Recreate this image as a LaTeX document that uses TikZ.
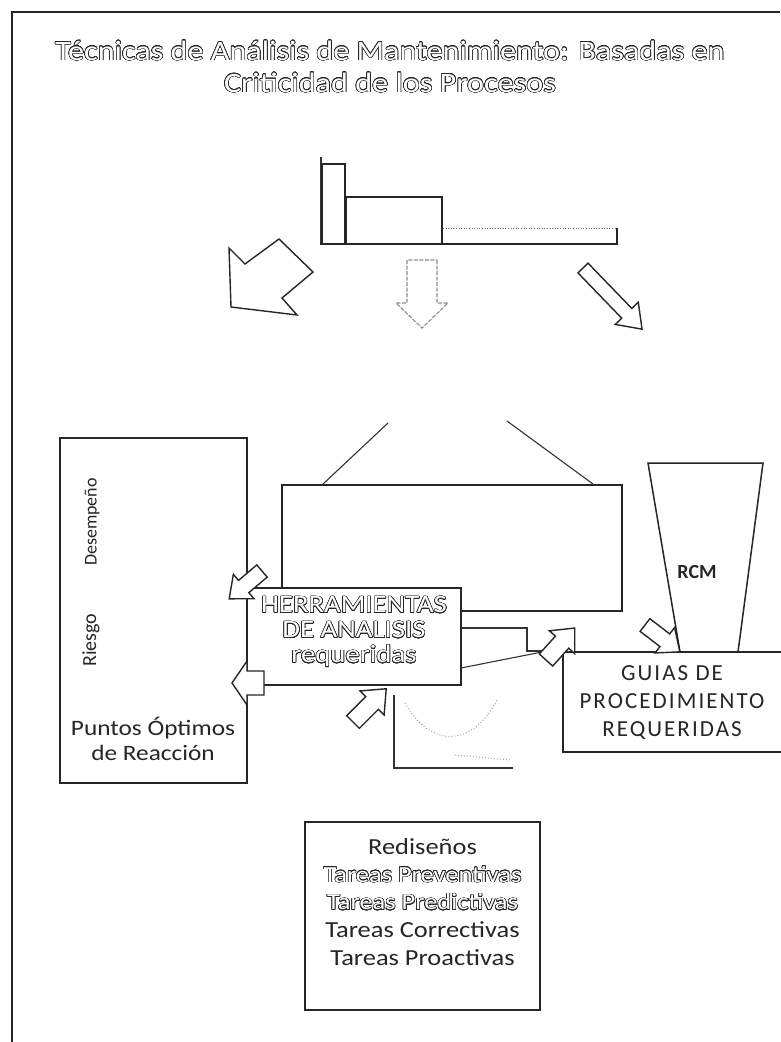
\documentclass[tikz,border=0pt]{standalone}
\usepackage{fontspec}
\setmainfont{Carlito}
\newfontfamily\widefont[FakeStretch=1.15]{Carlito}
\newfontfamily\spacedfont[LetterSpace=9]{Carlito}
\usepackage{contour}
\contourlength{0.6pt}
\contournumber{24}
\newcommand{\otext}[1]{{\color{white}\contour{black!85}{#1}}}
\newcommand{\blockarr}[8]{%
\begin{scope}[shift={(#2,#3)},rotate=#4]
\draw[#1] (0,-#6) -- ({#5-#8},-#6) -- ({#5-#8},-#7) -- (#5,0) -- ({#5-#8},#7) -- ({#5-#8},#6) -- (0,#6) -- cycle;
\end{scope}}
\tikzset{
  frameline/.style={line width=1.6pt, black!85},
  boxnode/.style={draw=black!85, line width=1.5pt, fill=white, inner sep=0pt},
  plainline/.style={line width=1.1pt, black!80},
  barrow/.style={draw=black!85, line width=1.4pt, fill=white, line join=miter},
  lightarrow/.style={draw=black!45, line width=1.1pt, dash pattern=on 4pt off 1.5pt, fill=white},
  bartile/.style={draw=black!85, line width=1.6pt},
  txt/.style={text=black!85, align=center, inner sep=0pt},
}
\begin{document}
\begin{tikzpicture}[x=1pt,y=-1pt]
\useasboundingbox (0,0) rectangle (780,1042);
\fill[white] (0,0) rectangle (780,1042);
% frame
\draw[frameline] (780,12) -- (12,12) -- (12,1042);
% title
\node[txt, font=\widefont\fontsize{28}{32}\selectfont] (title1) at (390,51) {\otext{Técnicas de Análisis de Mantenimiento: Basadas en}};
\node[txt, font=\widefont\fontsize{28}{32}\selectfont] (title2) at (390,83) {\otext{Criticidad de los Procesos}};
% bar chart
\draw[plainline] (321,157) -- (321,245);
\draw[bartile] (322,164) rectangle (345,244);
\draw[bartile] (346,197) rectangle (442,244);
\draw[bartile] (443,244) -- (617,244) -- (617,228);
\draw[black!60, line width=0.6pt, dotted] (443,228) -- (617,228);
% three arrows
\draw[barrow] (229,248) -- (245,264) -- (279,239) -- (313,272) -- (282,298) -- (297,315) -- (231,307) -- cycle;
\blockarr{lightarrow}{422}{260}{-90}{68}{15}{26}{25}
\blockarr{barrow}{583}{268}{-46}{85}{7}{16}{22}
% table box and lines
\node[boxnode, minimum width=340pt, minimum height=126pt] (table) at (452,548) {};
\coordinate (apexL) at (388,423);
\coordinate (apexR) at (507,421);
\coordinate (tabL) at (322,485);
\coordinate (tabR) at (593,484);
\draw[plainline] (apexL) -- (tabL);
\draw[plainline] (apexR) -- (tabR);
% left box
\node[boxnode, minimum width=187pt, minimum height=345pt] (leftbox) at (153.5,610.5) {};
\node[txt, rotate=90, font=\fontsize{18}{20}\selectfont] (desemp) at (92,522) {Desempeño};
\node[txt, rotate=90, font=\fontsize{20}{22}\selectfont] (riesgo) at (91,640) {Riesgo};
\node[txt, font=\widefont\fontsize{22}{25}\selectfont] (puntos) at (153,739) {Puntos Óptimos\\de Reacción};
% RCM trapezoid
\draw[boxnode] (648,463) -- (763,463) -- (738,652) -- (680,652) -- cycle;
\node[txt, font=\bfseries\fontsize{20}{22}\selectfont] (rcm) at (697,572) {RCM};
% GUIAS box
\node[boxnode, minimum width=222pt, minimum height=100pt] (guias) at (674,702) {};
\node[txt, font=\spacedfont\fontsize{23}{28}\selectfont] (guiastxt) at (672,703) {GUIAS DE\\PROCEDIMIENTO\\REQUERIDAS};
% HERRAMIENTAS box
\node[boxnode, minimum width=214pt, minimum height=97pt] (herr) at (354,636.5) {};
\node[txt, font=\widefont\fontsize{25}{25}\selectfont] (herrtxt) at (354,632) {\otext{HERRAMIENTAS}\\\otext{DE ANALISIS}\\\otext{requeridas}};
% connectors from HERRAMIENTAS
\coordinate (h1) at (461,628);
\coordinate (h2) at (461,668);
\coordinate (k1) at (527,628);
\coordinate (k2) at (527,651);
\coordinate (a4) at (547,651);
\draw[plainline] (h1) -- (k1) -- (k2) -- (a4);
\draw[plainline] (h2) -- (a4);
% small graph
\draw[plainline] (394,695) -- (394,768) -- (513,768);
\draw[black!35, line width=1pt, dotted] (405,703) .. controls (430,748) and (472,748) .. (497,700);
\draw[black!35, line width=1pt, dotted] (455,755) -- (510,760);
% small arrows
\blockarr{barrow}{262}{571}{-139.7}{43}{8}{16}{19}
\blockarr{barrow}{264}{683}{-180}{32}{12}{22}{15}
\blockarr{barrow}{353}{722}{45}{47}{9}{17}{20}
\blockarr{barrow}{546}{660}{48}{43}{9}{17}{19}
\blockarr{barrow}{645}{625}{-37.6}{44}{8}{16}{19}
% bottom box
\node[boxnode, minimum width=235pt, minimum height=188pt] (bottom) at (422.5,916) {};
\node[txt, font=\widefont\fontsize{23}{27.7}\selectfont] (bottomtxt) at (422.5,902) {Rediseños\\\otext{Tareas Preventivas}\\\otext{Tareas Predictivas}\\Tareas Correctivas\\Tareas Proactivas};
\end{tikzpicture}
\end{document}
